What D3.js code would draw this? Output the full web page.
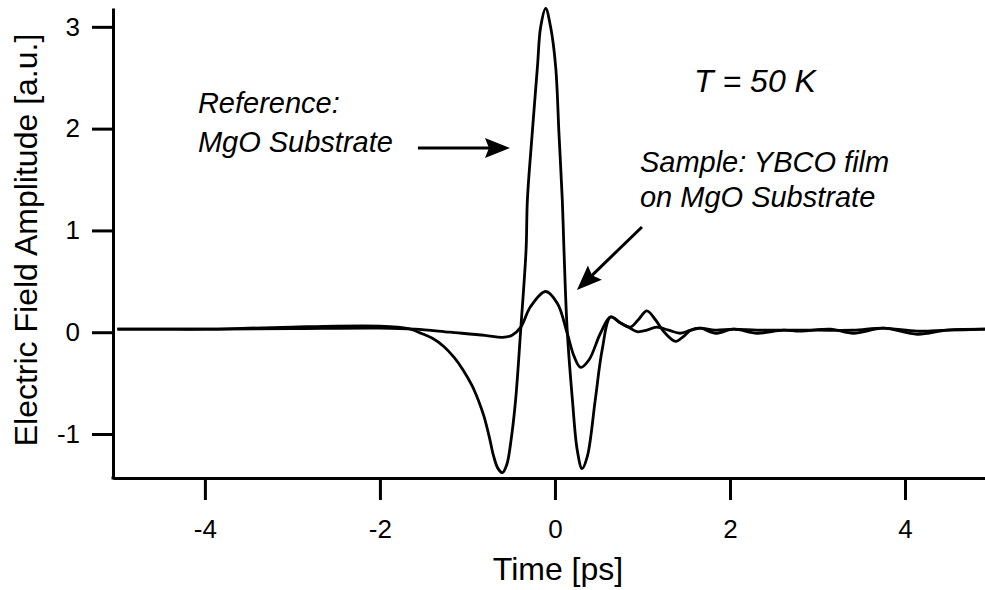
<!DOCTYPE html>
<html><head><meta charset="utf-8">
<script src="https://cdn.jsdelivr.net/npm/d3@7"></script>
<style>
html,body{margin:0;padding:0;background:#fff;}
svg{display:block;}
text{font-family:"Liberation Sans",Arial,Helvetica,sans-serif;fill:#000;}
</style>
</head><body>
<svg id="chart" width="985" height="590"></svg>
<script>
// ---- Data ----
const refTime = [-5.0,-4.5,-4.0,-3.5,-3.0,-2.5,-2.0,-1.8,-1.65,-1.53,-1.4,-1.27,-1.15,-1.05,-0.95,-0.87,-0.81,-0.75,-0.70,-0.65,-0.60,-0.55,-0.50,-0.45,-0.39,-0.33,-0.315,-0.26,-0.20,-0.163,-0.106,-0.05,0.008,0.046,0.084,0.103,0.14,0.20,0.255,0.31,0.37,0.46,0.54,0.636,0.75,0.86,0.95,1.05,1.15,1.25,1.38,1.47,1.55,1.66,1.83,2.04,2.31,2.61,2.8,3.15,3.41,3.75,4.14,4.48,4.92];
const refValue = [0.03,0.03,0.03,0.04,0.05,0.06,0.06,0.05,0.03,-0.01,-0.06,-0.14,-0.25,-0.37,-0.52,-0.68,-0.83,-1.03,-1.22,-1.34,-1.38,-1.30,-1.05,-0.67,0.04,0.81,1.30,1.95,2.61,3.0,3.18,3.0,2.61,1.95,1.30,0.81,0.02,-0.67,-1.16,-1.34,-1.22,-0.67,-0.17,0.15,0.09,0.05,0.12,0.21,0.12,0.0,-0.09,-0.04,0.02,0.04,-0.01,0.03,-0.01,0.02,0.01,0.03,-0.01,0.04,-0.02,0.02,0.03];

const sampleTime = [-5.0,-4.0,-3.0,-2.0,-1.6,-1.2,-0.8,-0.60,-0.49,-0.39,-0.28,-0.106,0.03,0.14,0.22,0.293,0.39,0.52,0.636,0.75,0.86,0.94,1.05,1.16,1.3,1.43,1.55,1.66,1.83,2.04,2.31,2.61,3.0,3.41,3.75,4.14,4.48,4.92];
const sampleValue = [0.03,0.03,0.035,0.04,0.03,0.0,-0.03,-0.05,-0.03,0.05,0.25,0.40,0.28,-0.01,-0.24,-0.345,-0.27,-0.01,0.15,0.09,0.04,0.005,0.02,0.05,0.02,-0.01,0.02,0.04,0.02,0.03,0.02,0.02,0.02,0.02,0.04,0.01,0.02,0.03];

const xTicks = [-4,-2,0,2,4];
const yTicks = [-1,0,1,2,3];
const xDomain = [-5.05, 4.914];
const yDomain = [-1.432, 3.185];

// Annotation texts
const labelRef = ["Reference:", "MgO Substrate"];
const labelSample = ["Sample: YBCO film", "on MgO Substrate"];
const labelTemp = "T = 50 K";

// ---- Drawing ----
const svg = d3.select("#chart");
const x = d3.scaleLinear().domain(xDomain).range([113, 985]);
const y = d3.scaleLinear().domain(yDomain).range([478, 8]);

const line = d3.line()
  .x(d => x(d[0])).y(d => y(d[1]))
  .curve(d3.curveCatmullRom.alpha(0.5));

const refData = refTime.map((t,i)=>[t, refValue[i]]);
const sampleData = sampleTime.map((t,i)=>[t, sampleValue[i]]);

svg.append("path").datum(sampleData).attr("d", line)
  .attr("fill","none").attr("stroke","#000").attr("stroke-width",2.8).attr("stroke-linejoin","round");
svg.append("path").datum(refData).attr("d", line)
  .attr("fill","none").attr("stroke","#000").attr("stroke-width",2.8).attr("stroke-linejoin","round");

// Axes
const fmt = d => String(d);
const xAxis = svg.append("g").attr("transform","translate(0,478)")
  .call(d3.axisBottom(x).tickValues(xTicks).tickSize(22).tickSizeOuter(0).tickPadding(20).tickFormat(fmt));
const yAxis = svg.append("g").attr("transform","translate(113,0)")
  .call(d3.axisLeft(y).tickValues(yTicks).tickSize(21).tickSizeOuter(0).tickPadding(12).tickFormat(fmt));
[xAxis, yAxis].forEach(g => {
  g.select(".domain").attr("stroke","#000").attr("stroke-width",3);
  g.selectAll(".tick line").attr("stroke","#000").attr("stroke-width",3);
  g.selectAll(".tick text").attr("font-size",26).attr("fill","#000")
    .style("font-family",'"Liberation Sans",Arial,sans-serif');
});
svg.append("rect").attr("x",111.5).attr("y",476.5).attr("width",3).attr("height",3).attr("fill","#000");

// Axis titles
svg.append("text").attr("x",558).attr("y",580).attr("text-anchor","middle")
  .attr("font-size",32).text("Time [ps]");
svg.append("text").attr("transform","translate(37,240) rotate(-90)").attr("text-anchor","middle")
  .attr("font-size",32).text("Electric Field Amplitude [a.u.]");

function italicLines(lines, t, v, dv, fs){
  const g = svg.append("g");
  lines.forEach((s,i)=>{
    g.append("text").attr("x", x(t)).attr("y", y(v) + i*dv)
      .attr("font-size", fs).attr("font-style","italic").text(s);
  });
}
italicLines(labelRef, -4.08, 2.153, 39, 29);
italicLines(labelSample, 0.971, 1.574, 35, 29);
italicLines([labelTemp], 1.59, 2.36, 0, 32);

// Arrows
function arrow(t0,v0,t1,v1){
  const x0=x(t0), y0=y(v0), x1=x(t1), y1=y(v1);
  const dx=x1-x0, dy=y1-y0, L=Math.hypot(dx,dy), ux=dx/L, uy=dy/L;
  const hl=25, hw=10, notch=4;
  const bx=x1-ux*hl, by=y1-uy*hl;
  svg.append("line").attr("x1",x0).attr("y1",y0).attr("x2",x1-ux*(hl-notch)).attr("y2",y1-uy*(hl-notch))
    .attr("stroke","#000").attr("stroke-width",3);
  const pts=[[x1,y1],[bx-uy*hw,by+ux*hw],[x1-ux*(hl-notch),y1-uy*(hl-notch)],[bx+uy*hw,by-ux*hw]];
  svg.append("polygon").attr("points",pts.map(p=>p.join(",")).join(" ")).attr("fill","#000");
}
arrow(-1.566, 1.81, -0.514, 1.81);
arrow(0.994, 1.034, 0.251, 0.415);
</script>
</body></html>
